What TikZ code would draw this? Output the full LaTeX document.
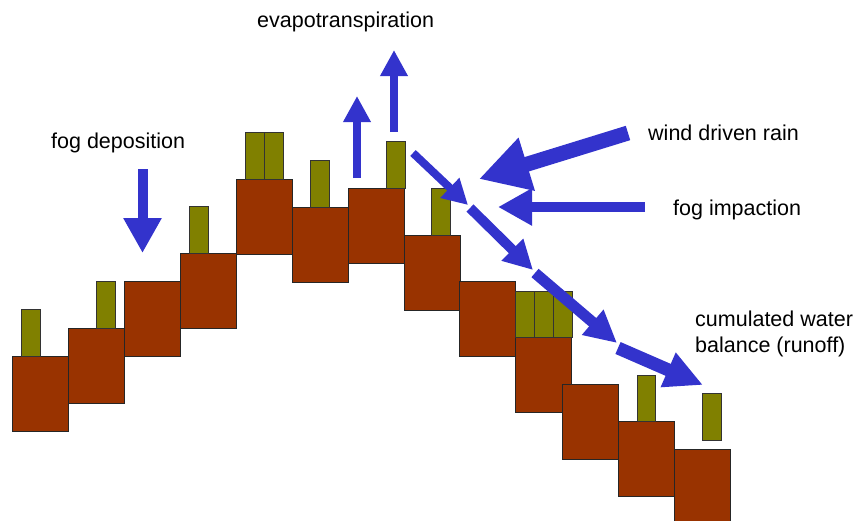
\documentclass[tikz,border=0pt]{standalone}
\usepackage{fontspec}
\setmainfont{Liberation Sans}
\usetikzlibrary{arrows.meta}

\definecolor{soilbrown}{HTML}{993300}
\definecolor{plantolive}{HTML}{808000}
\definecolor{flowblue}{HTML}{3333CC}

\tikzset{
  soil/.style={draw=black!85, fill=soilbrown, line width=0.8pt, inner sep=0pt,
    outer sep=0pt, anchor=north west, minimum width=56pt, minimum height=75pt},
  plant/.style={draw=black!80, fill=plantolive, line width=0.8pt, inner sep=0pt,
    outer sep=0pt, anchor=south west, minimum width=19pt, minimum height=47pt},
  flow/.style n args={3}{draw=flowblue, line width=#1pt,
    arrows={-Triangle[length=#2pt, width=#3pt]}},
  caption/.style={anchor=base west, inner sep=0pt, text=black,
    font=\fontsize{21.5pt}{26pt}\selectfont}
}

\begin{document}
\begin{tikzpicture}[x=1pt, y=-1pt]
  \useasboundingbox (0,0) rectangle (859,520);
  \clip (0,0) rectangle (859,520);

  % stepped soil blocks along the ridge profile
  \node[soil] (s1)  at (12,356)  {};
  \node[soil] (s2)  at (68,328)  {};
  \node[soil] (s3)  at (124,281) {};
  \node[soil] (s4)  at (180,253) {};
  \node[soil] (s5)  at (236,179) {};
  \node[soil] (s6)  at (292,207) {};
  \node[soil] (s7)  at (348,188) {};
  \node[soil] (s8)  at (404,235) {};
  \node[soil] (s9)  at (459,281) {};
  \node[soil] (s10) at (515,337) {};
  \node[soil] (s11) at (562,384) {};
  \node[soil] (s12) at (618,421) {};
  \node[soil] (s13) at (674,449) {};

  % vegetation standing on the blocks
  \node[plant] (p1)  at (21,356)  {};
  \node[plant] (p2)  at (96,328)  {};
  \node[plant] (p4)  at (189,253) {};
  \node[plant] (p5a) at (245,179) {};
  \node[plant] (p5b) at (264,179) {};
  \node[plant] (p6)  at (310,207) {};
  \node[plant] (p7)  at (386,188) {};
  \node[plant] (p8)  at (431,235) {};
  \node[plant, minimum height=46pt] (p10a) at (515,337) {};
  \node[plant, minimum height=46pt] (p10b) at (534,337) {};
  \node[plant, minimum height=46pt] (p10c) at (553,337) {};
  \node[plant, minimum width=18pt, minimum height=46pt] (p12) at (637,421) {};
  \node[plant] (p13) at (702,440) {};

  % arrow end points
  \coordinate (fd-a) at (142.5,169); \coordinate (fd-b) at (142.5,253);
  \coordinate (ev1-a) at (357,178);  \coordinate (ev1-b) at (357,96);
  \coordinate (ev2-a) at (394,132);  \coordinate (ev2-b) at (394,50);
  \coordinate (wr-a) at (628,133);   \coordinate (wr-b) at (479,179);
  \coordinate (fi-a) at (645,207);   \coordinate (fi-b) at (498,207);
  \coordinate (r1-a) at (413,153);   \coordinate (r1-b) at (468,205);
  \coordinate (r2-a) at (470,208);   \coordinate (r2-b) at (533,270);
  \coordinate (r3-a) at (535,273);   \coordinate (r3-b) at (617,343);
  \coordinate (r4-a) at (618,348);   \coordinate (r4-b) at (703,385);

  % water fluxes
  \draw[flow={10}{35}{36}] (fd-a) -- (fd-b);
  \draw[flow={8}{26}{26}]  (ev1-a) -- (ev1-b);
  \draw[flow={8}{26}{26}]  (ev2-a) -- (ev2-b);
  \draw[flow={15}{50}{52}] (wr-a) -- (wr-b);
  \draw[flow={10}{34}{35}] (fi-a) -- (fi-b);
  \draw[flow={8}{25}{26}]  (r1-a) -- (r1-b);
  \draw[flow={10}{29}{29}] (r2-a) -- (r2-b);
  \draw[flow={11}{32}{31}] (r3-a) -- (r3-b);
  \draw[flow={13}{38}{35}] (r4-a) -- (r4-b);

  % labels
  \node[caption] (t-evap) at (257,27)  {evapotranspiration};
  \node[caption] (t-fd)   at (51,148)  {fog deposition};
  \node[caption] (t-wr)   at (648,140) {wind driven rain};
  \node[caption] (t-fi)   at (673,215) {fog impaction};
  \node[caption] (t-cw1)  at (695,326) {cumulated water};
  \node[caption] (t-cw2)  at (695,352) {balance (runoff)};
\end{tikzpicture}
\end{document}
